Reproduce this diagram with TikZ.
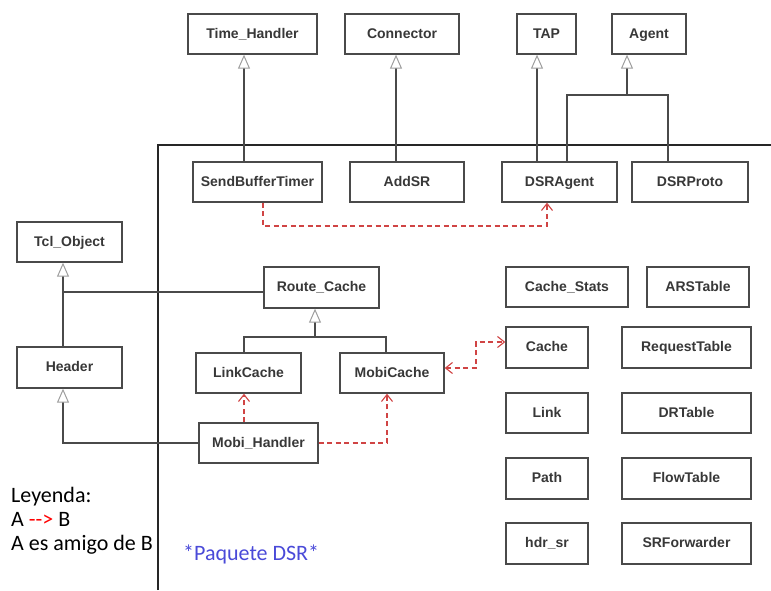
\documentclass[tikz,border=0pt]{standalone}
\usepackage{fontspec}
\setmainfont{Liberation Sans}
\newfontfamily\legendfont{Carlito}
\usetikzlibrary{arrows.meta}
\definecolor{boxline}{HTML}{4A4A4A}
\definecolor{boxtext}{HTML}{383838}
\definecolor{friend}{HTML}{D04444}
\definecolor{pkgblue}{HTML}{4A4AD8}
\tikzset{
  box/.style={draw=boxline, line width=1.3pt, fill=white, minimum height=40pt,
    inner sep=0pt, text height=10pt, text depth=2pt,
    font=\bfseries\fontsize{14}{16}\selectfont, text=boxtext},
  inh/.style={draw=boxline, line width=1.3pt,
    -{Triangle[open, length=14pt, width=12pt, fill=white, color=gray!75, line width=1pt]}},
  link/.style={draw=boxline, line width=1.3pt},
  barb/.tip={Straight Barb[length=7pt, width=11pt, line width=1.1pt]},
  friendarrow/.style={draw=friend, line width=1.3pt, dash pattern=on 5pt off 3.5pt, -barb},
  frame/.style={draw=black!85, line width=1.4pt}
}
\begin{document}
\begin{tikzpicture}[x=1pt, y=-1pt]
\useasboundingbox (0,0) rectangle (771,590);

% package frame
\draw[frame] (158,590) -- (158,145) -- (771,145);

% classes outside the package
\node[box, minimum width=129pt] (th)    at (252.5,34) {Time\_Handler};
\node[box, minimum width=114pt] (conn)  at (402,34)   {Connector};
\node[box, minimum width=59pt]  (tap)   at (546.5,34) {TAP};
\node[box, minimum width=74pt]  (agent) at (649,34)   {Agent};
\node[box, minimum width=105pt] (tcl)   at (69.5,242) {Tcl\_Object};
\node[box, minimum width=105pt, minimum height=41pt] (header) at (69.5,367.5) {Header};

% classes of the package
\node[box, minimum width=129pt] (sbt)   at (257.5,182) {SendBufferTimer};
\node[box, minimum width=114pt] (addsr) at (407,182)   {AddSR};
\node[box, minimum width=115pt] (dsra)  at (559.5,182) {DSRAgent};
\node[box, minimum width=116pt] (dsrp)  at (690,182)   {DSRProto};

\node[box, minimum width=115pt, minimum height=41pt] (rc) at (321.5,287.5) {Route\_Cache};
\node[box, minimum width=105pt] (lc) at (248.5,373) {LinkCache};
\node[box, minimum width=104pt] (mc) at (392,373)   {MobiCache};
\node[box, minimum width=119pt] (mh) at (258.5,443) {Mobi\_Handler};

\node[box, minimum width=122pt] (cs)    at (567,287)     {Cache\_Stats};
\node[box, minimum width=102pt] (ars)   at (698,287)     {ARSTable};
\node[box, minimum width=82pt, minimum height=41pt]  (cache) at (547,347.5) {Cache};
\node[box, minimum width=129pt, minimum height=41pt] (rt)    at (686.5,347.5) {RequestTable};
\node[box, minimum width=82pt]  (lnk)   at (547,413)     {Link};
\node[box, minimum width=129pt] (drt)   at (686.5,413)   {DRTable};
\node[box, minimum width=82pt, minimum height=41pt]  (path)  at (547,478.5) {Path};
\node[box, minimum width=129pt, minimum height=41pt] (flow)  at (686.5,478.5) {FlowTable};
\node[box, minimum width=82pt, minimum height=41pt]  (hdr)   at (547,543.5) {hdr\_sr};
\node[box, minimum width=129pt, minimum height=41pt] (srf)   at (686.5,543.5) {SRForwarder};

% helper points for connector routing
\coordinate (xth)   at (244,0);
\coordinate (xconn) at (396,0);
\coordinate (xtap)  at (537,0);
\coordinate (xag)   at (627,95);
\coordinate (agl)   at (567,95);
\coordinate (agr)   at (668,95);
\coordinate (xtcl)  at (63,292);
\coordinate (xrc)   at (315,337);
\coordinate (rcl)   at (244,337);
\coordinate (rcr)   at (386,337);
\coordinate (xhd)   at (63,443);
\coordinate (xmc)   at (387,443);
\coordinate (sbtd)  at (263,226);
\coordinate (dsrd)  at (547,226);
\coordinate (mcr)   at (476,368);
\coordinate (car)   at (476,342);

% inheritance
\draw[inh] (sbt.north -| xth) -- (th.south -| xth);
\draw[inh] (addsr.north -| xconn) -- (conn.south -| xconn);
\draw[inh] (dsra.north -| xtap) -- (tap.south -| xtap);
\draw[inh] (xag) -- (agent.south -| xag);
\draw[link] (dsra.north -| agl) -- (agl) -- (agr) -- (dsrp.north -| agr);
\draw[inh] (header.north -| xtcl) -- (tcl.south -| xtcl);
\draw[link] (xtcl) -- (rc.west |- xtcl);
\draw[inh] (xrc) -- (rc.south -| xrc);
\draw[link] (lc.north -| rcl) -- (rcl) -- (rcr) -- (mc.north -| rcr);
\draw[inh] (mh.west) -- (xhd) -- (header.south -| xhd);

% friendship
\draw[friendarrow] (mh.north -| rcl) -- (lc.south -| rcl);
\draw[friendarrow] (mh.east) -- (xmc) -- (mc.south -| xmc);
\draw[friendarrow] (sbt.south -| sbtd) -- (sbtd) -- (dsrd) -- (dsra.south -| dsrd);
\draw[friendarrow, barb-barb] (mc.east |- mcr) -- (mcr) -- (car) -- (cache.west |- car);

% legend and package label
\node[anchor=west, inner sep=0pt, font=\legendfont\fontsize{22}{24}\selectfont, align=left] (legend) at (11,521)
  {Leyenda:\\A \textcolor{red}{{-}{-}>} B\\A es amigo de B};
\node[anchor=west, inner sep=0pt, font=\legendfont\fontsize{22}{24}\selectfont, text=pkgblue] (pkg) at (183,554) {*Paquete DSR*};
\end{tikzpicture}
\end{document}
